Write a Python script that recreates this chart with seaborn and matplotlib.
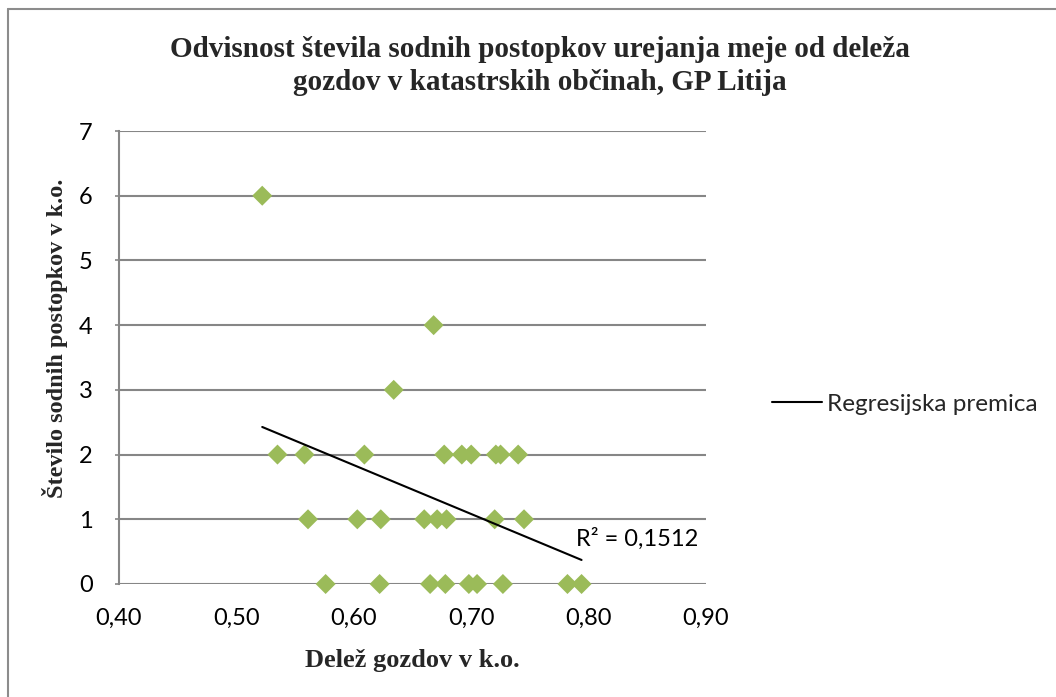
import numpy as np
import pandas as pd
import seaborn as sns
import matplotlib.pyplot as plt
from matplotlib.lines import Line2D

# --- data ---
delez_0 = [0.576, 0.622, 0.665, 0.678, 0.698, 0.705, 0.727, 0.782, 0.794]
delez_1 = [0.561, 0.603, 0.623, 0.660, 0.671, 0.679, 0.720, 0.745]
delez_2 = [0.535, 0.558, 0.609, 0.677, 0.692, 0.700, 0.721, 0.725, 0.740]
delez_3 = [0.634]
delez_4 = [0.668]
delez_6 = [0.522]
postopki_levels = [0, 1, 2, 3, 4, 6]

x_ticks = [0.40, 0.50, 0.60, 0.70, 0.80, 0.90]
x_ticklabels = ["0,40", "0,50", "0,60", "0,70", "0,80", "0,90"]
y_ticks = [0, 1, 2, 3, 4, 5, 6, 7]

title_1 = "Odvisnost števila sodnih postopkov urejanja meje od deleža"
title_2 = "gozdov v katastrskih občinah, GP Litija"
x_label = "Delež gozdov v k.o."
y_label = "Število sodnih postopkov v k.o."
legend_label = "Regresijska premica"
r2_text = "R² = 0,1512"

groups = [delez_0, delez_1, delez_2, delez_3, delez_4, delez_6]
xs, ys = [], []
for lvl, g in zip(postopki_levels, groups):
    xs += g
    ys += [lvl] * len(g)
df = pd.DataFrame({"delez": xs, "postopki": ys})

sns.set_theme(style="white")
plt.rcParams['font.family'] = ['Lato', 'DejaVu Sans']

W, H = 1056, 697
fig = plt.figure(figsize=(W / 100, H / 100), dpi=100)
fig.patch.set_facecolor("white")
ax = fig.add_axes([119 / W, 1 - 584 / H, (706 - 119) / W, (584 - 131) / H])

grid_c = "#868686"
sns.scatterplot(data=df, x="delez", y="postopki", marker="D", s=104,
                color="#9BBB59", edgecolor="none", linewidth=0, ax=ax,
                zorder=3, clip_on=False, legend=False)
sns.regplot(data=df, x="delez", y="postopki", scatter=False, ci=None,
            truncate=True, color="black", line_kws={"lw": 1.5, "zorder": 4},
            ax=ax)

ax.set_xlim(0.40, 0.90)
ax.set_ylim(0, 7)
ax.set_xticks(x_ticks)
ax.set_xticklabels(x_ticklabels)
ax.set_yticks(y_ticks)
ax.set_xlabel("")
ax.set_ylabel("")
ax.yaxis.grid(True, color=grid_c, lw=1.5)
ax.xaxis.grid(False)
ax.set_axisbelow(True)
for s in ["top", "right", "bottom"]:
    ax.spines[s].set_visible(False)
ax.spines["left"].set_color(grid_c)
ax.spines["left"].set_linewidth(1.5)
ax.tick_params(axis="y", which="major", left=True, length=3, width=1.2,
               color=grid_c, labelsize=17, pad=16, labelcolor="black")
ax.tick_params(axis="x", which="major", bottom=False, labelsize=17, pad=11,
               labelcolor="black")

ax.text(0.789, 0.586, r2_text, fontsize=17, va="baseline", ha="left",
        color="black")

serif = ["Liberation Serif", "DejaVu Serif"]
fig.text(540 / W, 1 - 57 / H, title_1, ha="center", va="baseline",
         family=serif, weight="bold", fontsize=21)
fig.text(540 / W, 1 - 90 / H, title_2, ha="center", va="baseline",
         family=serif, weight="bold", fontsize=21)
fig.text(412 / W, 1 - 667 / H, x_label, ha="center", va="baseline",
         family=serif, weight="bold", fontsize=19)
fig.text(55 / W, 1 - 338 / H, y_label, ha="center", va="center",
         rotation=90, family=serif, weight="bold", fontsize=17.5)

handle = Line2D([], [], color="black", lw=1.5)
fig.legend([handle], [legend_label], loc="center left",
           bbox_to_anchor=(772 / W, 1 - 404 / H), frameon=False,
           fontsize=17.5, handlelength=2.06, handletextpad=0.2,
           borderpad=0, borderaxespad=0)

# outer chart-area border (only top and left visible in the crop)
fig.add_artist(Line2D([8 / W, 8 / W], [0, 1 - 9 / H], color="#8c8c8c",
                      lw=1.5, transform=fig.transFigure))
fig.add_artist(Line2D([8 / W, 1], [1 - 9 / H, 1 - 9 / H], color="#8c8c8c",
                      lw=1.5, transform=fig.transFigure))

fig.savefig("out.png", dpi=100)
